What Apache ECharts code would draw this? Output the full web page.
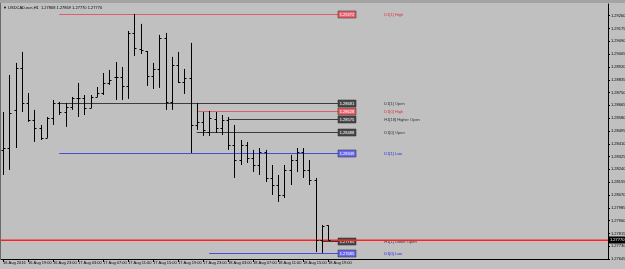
<!DOCTYPE html>
<html>
<head>
<meta charset="utf-8">
<script src="https://cdn.jsdelivr.net/npm/echarts@6/dist/echarts.min.js"></script>
<style>
html, body { margin: 0; padding: 0; background: #c0c0c0; }
#chart { width: 625px; height: 269px; }
</style>
</head>
<body>
<div id="chart"></div>
<script>
// USDCAD.ecn H1 bars, 16 Aug 15:00 .. 18 Aug 19:00
var opens  = [1.28369,1.28382,1.28635,1.28913,1.28681,1.28568,1.28515,1.28449,1.28581,1.28681,
              1.28621,1.28654,1.28714,1.28714,1.28648,1.28721,1.28747,1.28814,1.28854,1.28854,
              1.28794,1.29146,1.29040,1.29026,1.28860,1.28907,1.29113,1.28688,1.28933,1.28821,
              1.28847,1.28535,1.28555,1.28488,1.28575,1.28515,1.28568,1.28402,1.28302,1.28402,
              1.28316,1.28269,1.28356,1.28183,1.28136,1.28070,1.28236,1.28302,1.28356,1.28236,
              1.28170,1.27771,1.27868];
var highs  = [1.28621,1.28867,1.28947,1.29020,1.28747,1.28635,1.28535,1.28588,1.28701,1.28688,
              1.28681,1.28721,1.28814,1.28734,1.28734,1.28787,1.28880,1.28900,1.28953,1.28920,
              1.29159,1.29272,1.29206,1.29026,1.28947,1.29133,1.29146,1.28987,1.29020,1.28907,
              1.29080,1.28681,1.28621,1.28628,1.28621,1.28601,1.28588,1.28535,1.28435,1.28422,
              1.28369,1.28382,1.28369,1.28269,1.28203,1.28269,1.28336,1.28382,1.28382,1.28302,
              1.28183,1.27871,1.27869];
var lows   = [1.28203,1.28236,1.28382,1.28621,1.28555,1.28422,1.28435,1.28449,1.28535,1.28601,
              1.28522,1.28635,1.28588,1.28601,1.28648,1.28721,1.28734,1.28801,1.28701,1.28701,
              1.28708,1.28993,1.29006,1.28794,1.28774,1.28781,1.28635,1.28635,1.28814,1.28741,
              1.28349,1.28502,1.28462,1.28462,1.28482,1.28468,1.28369,1.28183,1.28269,1.28283,
              1.28223,1.28203,1.28156,1.28070,1.28024,1.28050,1.28136,1.28223,1.28183,1.28136,
              1.27691,1.27685,1.27770];
var closes = [1.28382,1.28615,1.28913,1.28681,1.28568,1.28515,1.28449,1.28581,1.28681,1.28621,
              1.28654,1.28714,1.28714,1.28648,1.28721,1.28747,1.28814,1.28834,1.28854,1.28794,
              1.29146,1.29046,1.29033,1.28860,1.28907,1.29113,1.28688,1.28933,1.28821,1.28847,
              1.28535,1.28555,1.28502,1.28581,1.28515,1.28568,1.28402,1.28302,1.28402,1.28316,
              1.28269,1.28356,1.28183,1.28136,1.28070,1.28236,1.28302,1.28356,1.28236,1.28170,
              1.27771,1.27866,1.27770];

var timeTicks  = [0,4,8,12,16,20,24,28,32,36,40,44,48,52];
var timeLabels = ['16 Aug 2016','16 Aug 19:00','16 Aug 23:00','17 Aug 03:00','17 Aug 07:00',
                  '17 Aug 11:00','17 Aug 15:00','17 Aug 19:00','17 Aug 23:00','18 Aug 03:00',
                  '18 Aug 07:00','18 Aug 11:00','18 Aug 15:00','18 Aug 19:00'];
var priceTicks = [1.27645,1.27730,1.27815,1.27900,1.27985,1.28070,1.28155,1.28240,1.28325,1.28410,
                  1.28495,1.28580,1.28665,1.28750,1.28835,1.28920,1.29005,1.29090,1.29175,1.29260];

// level objects drawn by the indicator
var levelNames  = ['D1[1] High','D1[1] Open','D1[0] High','H1[18] Higher Open','D1[0] Open',
                   'D1[1] Low','H1[1] Lower Open','D1[0] Low'];
var levelPrices = [1.29272,1.28681,1.28628,1.28575,1.28488,1.28349,1.27765,1.27685];
var levelStarts = [9,9,31,36,31,9,51,33];
var levelKinds  = ['high','open','high','open','open','low','open','low'];
var lastPrice = 1.27770;

var kindStyle = {
  high: { line: '#d9606a', box: '#e8646e', text: '#e0303c' },
  open: { line: '#3c3c3c', box: '#4a4a4a', text: '#303030' },
  low:  { line: '#4a4ae0', box: '#6a6af0', text: '#2a2ae0' }
};

var FONT = 'Liberation Sans';
var SMALL = '4px "Liberation Sans"';
var chart = echarts.init(document.getElementById('chart'), null, { renderer: 'canvas' });

var barData = opens.map(function (o, i) { return [i, o, highs[i], lows[i], closes[i]]; });

chart.setOption({
  animation: false,
  backgroundColor: '#c0c0c0',
  grid: { left: 1, right: 17, top: 4, bottom: 10, outerBoundsMode: 'none', containLabel: false },
  xAxis: {
    type: 'value', min: -0.32, max: 96.8,
    axisLine: { show: true, onZero: false, lineStyle: { color: '#000', width: 1 } },
    axisTick: { show: true, length: 3, customValues: timeTicks, lineStyle: { color: '#000' } },
    axisLabel: {
      customValues: timeTicks, align: 'left', margin: 2, color: '#000',
      fontSize: 4, fontFamily: FONT, hideOverlap: false,
      formatter: function (v) { return timeLabels[timeTicks.indexOf(v)] || ''; }
    },
    splitLine: { show: false }
  },
  yAxis: {
    type: 'value', position: 'right', min: 1.27645, max: 1.29338, scale: true,
    axisLine: { show: true, onZero: false, lineStyle: { color: '#000', width: 1 } },
    axisTick: { show: true, length: 2, customValues: priceTicks, lineStyle: { color: '#000' } },
    axisLabel: {
      customValues: priceTicks, margin: 3, color: '#000', fontSize: 4, fontFamily: FONT,
      hideOverlap: false,
      formatter: function (v) { return v.toFixed(5); }
    },
    splitLine: { show: false }
  },
  graphic: [
    { type: 'rect', shape: { x: 0, y: 0, width: 625, height: 3 }, style: { fill: '#a4a4a4' }, silent: true },
    { type: 'rect', shape: { x: 0, y: 3, width: 1, height: 256 }, style: { fill: '#6a6a6a' }, silent: true },
    { type: 'text', left: 3, top: 6, style: { text: '\u25BC USDCAD.ecn,H1  1.27868 1.27869 1.27770 1.27770',
      fill: '#000', font: SMALL }, silent: true }
  ],
  series: [
    {
      type: 'custom', name: 'levels', clip: false, z: 2,
      data: levelPrices.map(function (p, i) { return [levelStarts[i], p]; }),
      renderItem: function (params, api) {
        var i = params.dataIndex;
        var st = kindStyle[levelKinds[i]];
        var p = levelPrices[i];
        var a = api.coord([levelStarts[i], p]);
        var boxX = api.coord([53.6, p])[0];
        var textX = api.coord([61, p])[0];
        var y = Math.round(a[1]) + 0.5;
        return { type: 'group', children: [
          { type: 'line', shape: { x1: a[0], y1: y, x2: boxX, y2: y }, style: { stroke: st.line, lineWidth: 1 } },
          { type: 'rect', shape: { x: boxX, y: y - 3.5, width: 18, height: 7 }, style: { fill: st.box, stroke: '#222', lineWidth: 0.5 } },
          { type: 'text', x: boxX + 9, y: y, style: { text: p.toFixed(5), fill: '#fff', font: SMALL, align: 'center', verticalAlign: 'middle' } },
          { type: 'text', x: textX, y: y, style: { text: levelNames[i], fill: st.text, font: SMALL, align: 'left', verticalAlign: 'middle' } }
        ] };
      }
    },
    {
      type: 'custom', name: 'last', clip: false, z: 3,
      data: [[0, lastPrice]],
      renderItem: function (params, api) {
        var l = api.coord([-0.32, lastPrice]);
        var r = api.coord([96.8, lastPrice]);
        var y = Math.round(l[1]);
        return { type: 'group', children: [
          { type: 'rect', shape: { x: l[0], y: y - 0.5, width: r[0] - l[0], height: 1.5 }, style: { fill: '#ff2020' } },
          { type: 'rect', shape: { x: r[0] + 1, y: y - 3.5, width: 17, height: 7 }, style: { fill: '#000' } },
          { type: 'text', x: r[0] + 2, y: y, style: { text: lastPrice.toFixed(5), fill: '#fff', font: SMALL, align: 'left', verticalAlign: 'middle' } }
        ] };
      }
    },
    {
      type: 'custom', name: 'USDCAD', clip: true, z: 4,
      data: barData,
      encode: { x: 0, y: [1, 2, 3, 4] },
      renderItem: function (params, api) {
        var x = api.value(0);
        var o = api.coord([x, api.value(1)]);
        var h = api.coord([x, api.value(2)]);
        var l = api.coord([x, api.value(3)]);
        var c = api.coord([x, api.value(4)]);
        var cx = Math.round(o[0]) + 0.5;
        var oy = Math.round(o[1]) + 0.5, cy = Math.round(c[1]) + 0.5;
        var st = { stroke: '#000', lineWidth: 1 };
        return { type: 'group', children: [
          { type: 'line', shape: { x1: cx, y1: h[1], x2: cx, y2: l[1] }, style: st },
          { type: 'line', shape: { x1: cx - 2, y1: oy, x2: cx, y2: oy }, style: st },
          { type: 'line', shape: { x1: cx, y1: cy, x2: cx + 2, y2: cy }, style: st }
        ] };
      }
    }
  ]
});
</script>
</body>
</html>
